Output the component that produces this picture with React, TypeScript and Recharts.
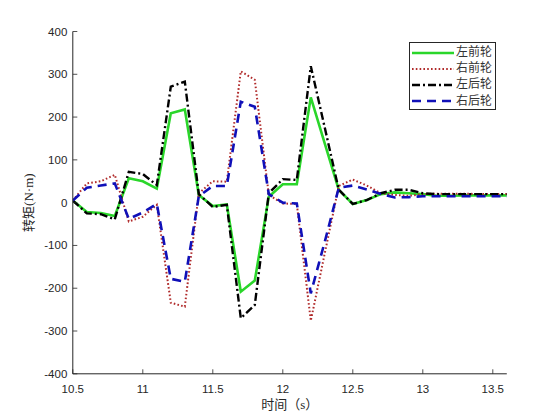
import { LineChart, Line, XAxis, YAxis, Legend } from 'recharts'

const time = [10.5, 10.6, 10.7, 10.8, 10.9, 11.0, 11.1, 11.2, 11.3, 11.4, 11.5, 11.6, 11.7, 11.8, 11.9, 12.0,
    12.1, 12.2, 12.3, 12.4, 12.5, 12.6, 12.7, 12.8, 12.9, 13.0, 13.1, 13.2, 13.3, 13.4, 13.5, 13.6]

// 左前轮
const leftFront = [5, -22, -24, -31, 57, 50, 33, 209, 218, 18, -8, -4, -208, -182, 14, 43,
    43, 246, 138, 30, -3, 6, 20, 24, 22, 20, 16, 16, 17, 17, 17, 17]
// 右前轮
const rightFront = [5, 45, 50, 65, -44, -33, -5, -234, -243, 22, 50, 49, 307, 287, 18, -2,
    -3, -276, -118, 39, 54, 40, 22, 18, 16, 20, 21, 21, 21, 20, 20, 20]
// 左后轮
const leftRear = [5, -25, -27, -39, 72, 67, 41, 271, 283, 20, -10, -5, -270, -239, 22, 55,
    53, 319, 175, 30, -3, 6, 22, 30, 30, 22, 20, 20, 20, 20, 20, 20]
// 右后轮
const rightRear = [5, 35, 40, 45, -38, -23, -3, -178, -185, 15, 39, 39, 236, 224, 20, 0,
    -2, -212, -91, 35, 40, 31, 20, 12, 13, 15, 15, 15, 15, 15, 15, 15]

const xTicks = [10.5, 11, 11.5, 12, 12.5, 13, 13.5]
const yTicks = [-400, -300, -200, -100, 0, 100, 200, 300, 400]

const AXIS = '#262626'
const TICK_FONT = '"Liberation Sans", Arial, sans-serif'
const CJK_FONT = '"Liberation Serif", "Noto Sans CJK SC", serif'

const SERIES = [
    { key: 'lf', name: '左前轮', color: '#2ad62a', width: 2.6, dash: undefined },
    { key: 'rf', name: '右前轮', color: '#b02a2a', width: 2, dash: '1.6 2.2' },
    { key: 'lr', name: '左后轮', color: '#000000', width: 2.4, dash: '8 3 2 3' },
    { key: 'rr', name: '右后轮', color: '#1010b8', width: 2.6, dash: '9 6' },
]

const data = time.map((t, i) => ({
    t,
    lf: leftFront[i],
    rf: rightFront[i],
    lr: leftRear[i],
    rr: rightRear[i],
}))

const BottomTick = (p: any) => (
    <g>
        <line x1={p.x} y1={p.y} x2={p.x} y2={p.y - 4.5} stroke={AXIS} strokeWidth={0.8}/>
        <text x={p.x} y={p.y + 19.5} textAnchor="middle" fontSize={11.5} fontFamily={TICK_FONT} fill={AXIS}>
            {p.payload.value}
        </text>
    </g>
)

const TopTick = (p: any) => (
    <line x1={p.x} y1={p.y} x2={p.x} y2={p.y + 4.5} stroke={AXIS} strokeWidth={0.8}/>
)

const LeftTick = (p: any) => (
    <g>
        <line x1={p.x} y1={p.y} x2={p.x + 4.5} y2={p.y} stroke={AXIS} strokeWidth={0.8}/>
        <text x={p.x - 5.5} y={p.y + 4} textAnchor="end" fontSize={11.5} fontFamily={TICK_FONT} fill={AXIS}>
            {p.payload.value}
        </text>
    </g>
)

const RightTick = (p: any) => (
    <line x1={p.x} y1={p.y} x2={p.x - 4.5} y2={p.y} stroke={AXIS} strokeWidth={0.8}/>
)

const LegendBox = () => (
    <div style={{
        border: `1px solid ${AXIS}`, background: '#fff', width: 87, height: 68,
        boxSizing: 'border-box', paddingTop: 1.5, whiteSpace: 'nowrap', overflow: 'hidden',
    }}>
        {SERIES.map(s => (
            <div key={s.key} style={{ display: 'flex', alignItems: 'center', height: 16.2 }}>
                <svg width={46} height={10} style={{ flex: 'none', display: 'block' }}>
                    <line x1={2} y1={5} x2={44} y2={5} stroke={s.color} strokeWidth={s.width}
                          strokeDasharray={s.dash}/>
                </svg>
                <span style={{ fontFamily: CJK_FONT, fontSize: 12, color: '#333', lineHeight: '13px' }}>
                    {s.name}
                </span>
            </div>
        ))}
    </div>
)

export default function App() {
    return (
        <div style={{ position: 'absolute', left: 0, top: 0, width: 560, height: 420, background: '#fff' }}>
            <LineChart width={560} height={420} data={data}
                       margin={{ top: 31.5, right: 53.2, bottom: 16.2, left: 0 }}>
                <XAxis dataKey="t" type="number" domain={[10.5, 13.6]} ticks={xTicks}
                       allowDataOverflow height={30} stroke={AXIS} tickLine={false}
                       tickSize={0} tickMargin={0} tick={BottomTick}
                       label={{
                           content: ({ viewBox }: any) => (
                               <text x={viewBox.x + viewBox.width / 2} y={viewBox.y + 35.5}
                                     textAnchor="middle" fontSize={13} fontFamily={CJK_FONT} fill={AXIS}>
                                   时间（s）
                               </text>
                           ),
                       }}/>
                <XAxis xAxisId="top" orientation="top" dataKey="t" type="number" domain={[10.5, 13.6]}
                       ticks={xTicks} height={0} stroke={AXIS} tickLine={false} tickSize={0}
                       tickMargin={0} tick={TopTick}/>
                <YAxis type="number" domain={[-400, 400]} ticks={yTicks} width={72.8} stroke={AXIS}
                       tickLine={false} tickSize={0} tickMargin={0} tick={LeftTick}
                       label={{
                           content: ({ viewBox }: any) => {
                               const cx = viewBox.x + 28.5
                               const cy = viewBox.y + viewBox.height / 2
                               return (
                                   <text x={cx} y={cy} transform={`rotate(-90 ${cx} ${cy})`}
                                         textAnchor="middle" dominantBaseline="central" fontSize={13}
                                         fontFamily={CJK_FONT} fill={AXIS}>
                                       转矩(N·m)
                                   </text>
                               )
                           },
                       }}/>
                <YAxis yAxisId="right" orientation="right" type="number" domain={[-400, 400]}
                       ticks={yTicks} width={0} stroke={AXIS} tickLine={false} tickSize={0}
                       tickMargin={0} tick={RightTick}/>
                <Legend layout="vertical" verticalAlign="middle" align="center" content={LegendBox}
                        wrapperStyle={{ position: 'absolute', left: 409, top: 42, width: 87 }}/>
                {SERIES.map(s => (
                    <Line key={s.key} dataKey={s.key} name={s.name} type="linear" stroke={s.color}
                          strokeWidth={s.width} strokeDasharray={s.dash} dot={false}
                          activeDot={false} isAnimationActive={false} strokeLinejoin="miter"/>
                ))}
            </LineChart>
        </div>
    )
}
